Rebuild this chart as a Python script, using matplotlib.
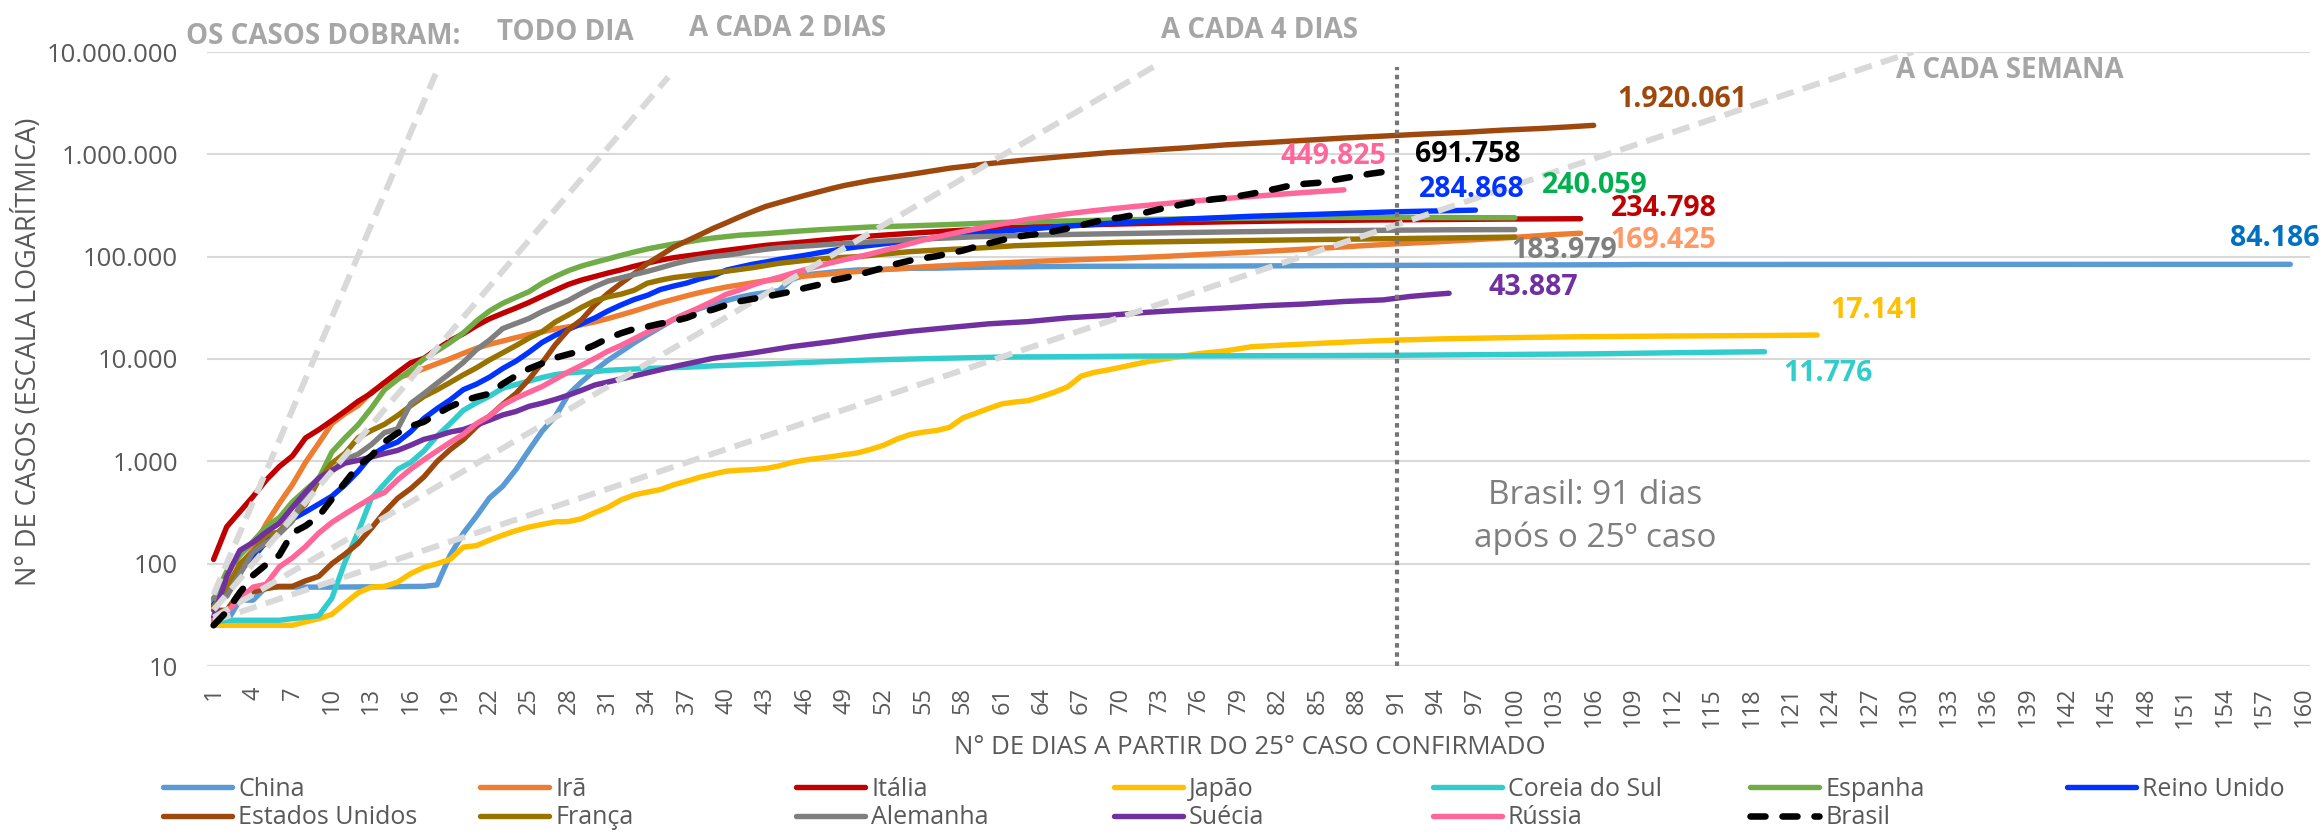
import matplotlib
matplotlib.use("Agg")
import matplotlib.pyplot as plt
from matplotlib.ticker import NullLocator, FixedLocator, FixedFormatter

plt.rcParams['font.family'] = ['Open Sans', 'DejaVu Sans']

# ---------------- data ----------------
x_ticks = list(range(1, 161, 3))
y_ticks = [10, 100, 1000, 10000, 100000, 1000000, 10000000]
y_tick_labels = ["10", "100", "1.000", "10.000", "100.000", "1.000.000", "10.000.000"]

china_days = [1, 2, 3, 4, 5, 10, 17] + list(range(18, 51)) + [52, 54, 56, 58, 61, 66, 76, 92, 108, 109, 122, 140, 159]
china_cases = [27, 27, 44, 44, 59, 59, 60,
               62, 121, 198, 291, 440, 571, 830, 1287, 1975, 2744, 4515, 5974, 7711, 9692, 11791, 14380,
               17205, 20438, 24324, 28018, 31161, 34546, 37198, 40171, 42638, 44653, 46472, 59895, 66358,
               68413, 70513, 72434, 74211,
               75077, 77001, 77241, 78166, 79356, 80409, 80860, 82279, 83482, 83760, 83959, 84063, 84186]

iran_days = list(range(1, 41)) + [43, 46, 49, 52, 55, 58, 61, 64, 67, 70, 73, 76, 79, 82, 85, 88, 91, 94, 97, 100, 103, 105]
iran_cases = [43, 61, 95, 139, 245, 388, 593, 978, 1501, 2336, 2922, 3513, 4747, 5823, 6566, 7161, 8042, 9000,
              10075, 11364, 12729, 13938, 14991, 16169, 17361, 18407, 19644, 20610, 21638, 23049, 24811, 27017,
              29406, 32332, 35408, 38309, 41495, 44605, 47593, 50468,
              58226, 64586, 70029, 74877, 79494, 83505, 87026, 90481, 93657, 96448, 99970, 104691, 109286,
              114533, 120198, 126949, 133521, 139511, 146668, 154445, 164270, 169425]

italy_days = list(range(1, 41)) + [43, 46, 49, 52, 55, 58, 61, 64, 68, 73, 78, 83, 88, 93, 99, 104, 105]
italy_cases = [110, 229, 322, 453, 655, 888, 1128, 1694, 2036, 2502, 3089, 3858, 4636, 5883, 7375, 9172, 10149,
               12462, 15113, 17660, 21157, 24747, 27980, 31506, 35713, 41035, 47021, 53578, 59138, 63927, 69176,
               74386, 80589, 86498, 92472, 97689, 101739, 105792, 110574, 115242,
               128948, 139422, 152271, 162488, 172434, 181228, 189973, 197675, 205463, 213013, 219070, 223885,
               227364, 230158, 232997, 234531, 234798]

japan_days = [1, 7, 8, 9, 10, 11, 12, 13, 14, 15, 16, 17, 18, 19, 20, 21, 22, 23, 24, 25, 26, 27, 28, 29, 30,
              31, 32, 33, 34, 35, 36, 37, 38, 39, 40, 41, 42, 43, 44, 45, 46, 47, 48, 49, 50, 51, 52, 53, 54,
              55, 56, 57, 58, 59, 60, 61, 62, 63, 64, 65, 66, 67, 68, 69, 70, 72, 74, 76, 78, 80, 82, 85, 88,
              91, 95, 100, 105, 110, 115, 120, 123]
japan_cases = [25, 25, 27, 29, 32, 41, 52, 59, 60, 66, 80, 92, 100, 110, 145, 150, 170, 190, 210, 228, 242, 256,
               258, 275, 315, 355, 420, 470, 500, 530, 590, 640, 700, 750, 800, 820, 830, 850, 900, 975, 1030,
               1070, 1110, 1160, 1210, 1310, 1440, 1650, 1830, 1930, 2000, 2150, 2650, 2950, 3300, 3650, 3800,
               3920, 4300, 4750, 5360, 6800, 7400, 7800, 8300, 9400, 10300, 11300, 12000, 13200, 13600, 14200,
               14800, 15300, 15800, 16200, 16500, 16700, 16850, 17000, 17141]

korea_days = list(range(1, 41)) + [45, 51, 55, 61, 66, 71, 76, 81, 86, 91, 96, 101, 106, 112, 116, 119]
korea_cases = [27, 28, 28, 28, 28, 28, 29, 30, 31, 46, 104, 204, 433, 602, 833, 977, 1261, 1766, 2337, 3150,
               3736, 4335, 5186, 5621, 6088, 6593, 7041, 7314, 7478, 7513, 7755, 7869, 7979, 8086, 8162, 8236,
               8320, 8413, 8565, 8652,
               9137, 9786, 10062, 10450, 10537, 10674, 10728, 10774, 10810, 10874, 10991, 11110, 11225, 11503,
               11668, 11776]

spain_days = list(range(1, 42)) + [43, 45, 47, 49, 51, 54, 57, 61, 65, 69, 73, 77, 81, 85, 91, 95, 100]
spain_cases = [45, 84, 120, 165, 228, 282, 401, 525, 674, 1231, 1695, 2277, 3300, 5000, 6300, 7800, 10000,
               12000, 14500, 18000, 23500, 29500, 35000, 40000, 45500, 55000, 64000, 73000, 81000, 88000, 95000,
               103000, 111000, 119000, 126000, 133000, 139000, 146000, 152000, 157000, 162000,
               168000, 176000, 183000, 189000, 195000, 200000, 206000, 216000, 222000, 228000, 232000, 236000,
               239000, 241000, 242500, 241000, 240059]

uk_days = list(range(1, 51)) + [52, 54, 56, 58, 60, 61, 65, 70, 75, 80, 85, 91, 97]
uk_cases = [40, 51, 85, 115, 163, 206, 273, 321, 382, 456, 590, 798, 1140, 1372, 1543, 1950, 2626, 3269, 3983,
            5018, 5683, 6650, 8077, 9529, 11658, 14543, 17089, 19522, 22141, 25150, 29474, 33718, 38168, 41903,
            47806, 51608, 55242, 60733, 65077, 73758, 78991, 84279, 88621, 93873, 98476, 103093, 108692, 114217,
            120067, 124743,
            133495, 143464, 152840, 161145, 171253, 177454, 194990, 215260, 233151, 248293, 259559, 274762, 284868]

us_days = list(range(1, 50)) + [51, 54, 57, 60, 63, 66, 69, 72, 75, 78, 81, 84, 87, 90, 93, 96, 99, 102, 104, 106]
us_cases = [35, 35, 53, 53, 57, 60, 60, 68, 75, 100, 124, 158, 221, 319, 435, 541, 704, 994, 1301, 1630, 2183,
            2770, 3613, 4596, 6344, 9197, 13779, 19367, 24192, 33592, 43781, 54856, 68211, 85570, 102798, 123966,
            142478, 163768, 188747, 214021, 243704, 275802, 309328, 336784, 366317, 397121, 428654, 462780, 496535,
            555313, 636350, 732197, 811865, 886709, 960896, 1035765, 1095304, 1158041, 1237633, 1300000, 1369964,
            1442824, 1508308, 1577147, 1637456, 1721750, 1790191, 1851520, 1920061]

france_days = list(range(1, 37)) + [38, 40, 42, 44, 46, 48, 50, 52, 54, 56, 59, 62, 66, 70, 75, 80, 85, 91, 95, 100]
france_cases = [38, 57, 100, 130, 191, 204, 288, 380, 656, 957, 1200, 1700, 2000, 2300, 2800, 3500, 4300, 5000,
                5900, 7000, 8200, 9800, 11500, 13500, 16000, 18500, 23000, 27000, 32000, 37000, 40500, 43000,
                47000, 55000, 59000, 62500,
                67000, 72000, 78000, 86000, 92000, 97000, 100000, 106000, 112000, 116000, 121000, 128000, 133000,
                138000, 141000, 144000, 147000, 150000, 152500, 155500]

germany_days = list(range(1, 45)) + [49, 54, 59, 64, 69, 74, 79, 84, 89, 95, 100]
germany_cases = [46, 48, 79, 130, 159, 196, 262, 482, 670, 799, 1040, 1176, 1457, 1908, 2078, 3675, 4585, 5795,
                 7272, 9257, 12327, 15320, 19848, 22213, 24873, 29056, 32986, 37323, 43938, 50871, 57695, 62095,
                 66885, 71808, 77872, 84794, 91159, 96092, 100123, 103374, 107663, 113296, 118181, 122171,
                 134753, 147065, 156513, 163009, 167300, 171324, 174975, 178473, 180600, 183189, 183979]

sweden_days = list(range(1, 31)) + [33, 36, 39, 42, 45, 48, 51, 54, 57, 60, 63, 66, 69, 72, 75, 78, 81, 84, 87, 90, 92, 93, 94, 95]
sweden_cases = [30, 75, 135, 161, 203, 248, 355, 500, 687, 814, 961, 1022, 1103, 1190, 1279, 1439, 1639, 1763,
                1934, 2046, 2272, 2526, 2840, 3069, 3447, 3700, 4028, 4435, 4947, 5568,
                6830, 8419, 10151, 11445, 13216, 14777, 16755, 18640, 20302, 22082, 23216, 25265, 26670, 28582,
                30143, 31523, 33188, 34440, 36476, 37814, 40803, 41883, 42939, 43887]

russia_days = list(range(1, 52)) + [53, 55, 57, 60, 63, 66, 68, 71, 73, 76, 79, 82, 84, 86, 87]
russia_cases = [28, 34, 45, 59, 63, 93, 114, 147, 199, 253, 306, 367, 438, 495, 658, 840, 1036, 1264, 1534, 1836,
                2337, 2777, 3548, 4149, 4731, 5389, 6343, 7497, 8672, 10131, 11917, 13584, 15770, 18328, 21102,
                24490, 27938, 32008, 36793, 42853, 47121, 52763, 57999, 62773, 68622, 74588, 80949, 87147, 93558,
                99399, 106498,
                124054, 145268, 165929, 198676, 232243, 262843, 281752, 308705, 326448, 353427, 379051, 405843,
                423741, 441108, 449825]

brasil_days = list(range(1, 92))
brasil_cases = [25, 34, 52, 77, 98, 121, 200, 234, 291, 428, 621, 904, 1128, 1546, 1891, 2201, 2433, 2915, 3417,
                3904, 4256, 4579, 5717,
                6836, 8044, 9056, 10278, 11130, 12056, 13717, 15927, 17857, 19638, 20727, 22169, 23430, 25262,
                28320, 30425, 33682, 36599, 38654, 40581, 43079, 45757, 49492, 52995, 58509, 61888, 66501, 71886,
                78162, 85380,
                91589, 96559, 101147, 107780, 114715, 125218, 135106, 145328, 155939, 162699, 168331, 177589,
                188974, 202918, 218223, 233142, 241080, 255368, 271628, 291579, 310087, 330890, 347398, 363211,
                374898, 391222, 411821, 438238, 465166, 498440, 514849,
                526447, 555383, 584016, 614941, 645771, 672846, 691758]

# reference "doubling" guides: cases = base * 2 ** (day / doubling_time)
guide_base = 25
guide_doubling_days = [1, 2, 4, 7]
guide_end_day = [17.9, 35.6, 73.0, 130.3]

# ---------------- styling ----------------
countries = [
    ("China", china_days, china_cases, "#5B9BD5"),
    ("Irã", iran_days, iran_cases, "#ED7D31"),
    ("Itália", italy_days, italy_cases, "#C00000"),
    ("Japão", japan_days, japan_cases, "#FFC000"),
    ("Coreia do Sul", korea_days, korea_cases, "#33CCCC"),
    ("Espanha", spain_days, spain_cases, "#70AD47"),
    ("Reino Unido", uk_days, uk_cases, "#0033FF"),
    ("Estados Unidos", us_days, us_cases, "#9E480E"),
    ("França", france_days, france_cases, "#997300"),
    ("Alemanha", germany_days, germany_cases, "#7F7F7F"),
    ("Suécia", sweden_days, sweden_cases, "#7030A0"),
    ("Rússia", russia_days, russia_cases, "#FF6699"),
]

W, H = 2320, 835
fig = plt.figure(figsize=(W / 100, H / 100), dpi=100)
ax = fig.add_axes([207 / W, 1 - 666 / H, (2310 - 207) / W, (666 - 52) / H])

LW = 3.9
lines = {}
for name, d, c, col in countries:
    (ln,) = ax.plot(d, c, color=col, lw=LW, solid_capstyle="round", solid_joinstyle="round", zorder=3, label=name)
    lines[name] = ln

# doubling guides
for T, dend in zip(guide_doubling_days, guide_end_day):
    xs = [1, dend]
    ys = [guide_base * 2 ** (x / T) for x in xs]
    ax.plot(xs, ys, color="#D9D9D9", lw=4.3, dashes=(3.0, 1.6), dash_capstyle="butt", zorder=4)

(ln_br,) = ax.plot(brasil_days, brasil_cases, color="black", lw=4.7, dashes=(2.3, 2.6),
                   dash_capstyle="round", zorder=6, label="Brasil")
lines["Brasil"] = ln_br

# vertical dotted marker on Brazil's current day
ax.axvline(brasil_days[-1], ymin=0, ymax=0.975, color="#767676", lw=3.0, dashes=(1.1, 1.1), zorder=5)

ax.set_yscale("log")
ax.set_xlim(0.5, 160.5)
ax.set_ylim(10, 1e7)
ax.yaxis.set_major_locator(FixedLocator(y_ticks))
ax.yaxis.set_major_formatter(FixedFormatter(y_tick_labels))
ax.yaxis.set_minor_locator(NullLocator())
ax.set_xticks(x_ticks)
ax.set_xticklabels([str(t) for t in x_ticks], rotation=90)
ax.tick_params(axis="y", length=0, pad=21, labelsize=18.5, labelcolor="#595959")
ax.tick_params(axis="x", length=0, pad=15, labelsize=17, labelcolor="#595959")
ax.grid(axis="y", color="#D9D9D9", lw=1.5, zorder=0)
ax.set_axisbelow(True)
for s in ax.spines.values():
    s.set_visible(False)

# end-of-series labels
def fmt(v):
    return f"{v:,}".replace(",", ".")

end_labels = [
    (us_cases[-1], "#9E480E", 107.8, 3.40e6, "left"),
    (russia_cases[-1], "#FF6699", 90.2, 9.48e5, "right"),
    (brasil_cases[-1], "#000000", 92.4, 9.9e5, "left"),
    (uk_cases[-1], "#0033FF", 92.7, 4.51e5, "left"),
    (spain_cases[-1], "#00B050", 102.1, 4.93e5, "left"),
    (italy_cases[-1], "#C00000", 107.3, 2.94e5, "left"),
    (iran_cases[-1], "#FF9966", 107.3, 1.43e5, "left"),
    (germany_cases[-1], "#7F7F7F", 99.7, 1.14e5, "left"),
    (sweden_cases[-1], "#7030A0", 98.0, 4.98e4, "left"),
    (china_cases[-1], "#0070C0", 161.2, 1.52e5, "right"),
    (japan_cases[-1], "#FFC000", 124.0, 2.99e4, "left"),
    (korea_cases[-1], "#33CCCC", 120.4, 7.2e3, "left"),
]
for v, col, xd, yd, ha in end_labels:
    ax.text(xd, yd, fmt(v), color=col, fontsize=20.5, fontweight="bold", ha=ha, va="center", zorder=7)

ax.text(106.1, 285, f"Brasil: {brasil_days[-1]} dias\napós o 25º caso", color="#7F7F7F",
        fontsize=24, ha="center", va="center", linespacing=1.38, zorder=7)

# guide captions
captions = [("OS CASOS DOBRAM:", 186, 36), ("TODO DIA", 497, 33), ("A CADA 2 DIAS", 689, 29),
            ("A CADA 4 DIAS", 1161, 31), ("A CADA SEMANA", 1896, 70)]
for s, px, py in captions:
    fig.text(px / W, 1 - py / H, s, color="#A6A6A6", fontsize=20, fontweight="bold", ha="left", va="center")

fig.text(28 / W, 1 - 352 / H, "N° DE CASOS (ESCALA LOGARÍTMICA)", rotation=90, color="#595959",
         fontsize=19.5, ha="center", va="center")
fig.text(1250 / W, 1 - 748 / H, "N° DE DIAS A PARTIR DO 25° CASO CONFIRMADO", color="#595959",
         fontsize=18.5, ha="center", va="center")

# legend: 7 columns, Excel-like fixed column spacing
legend_cols = [["China", "Estados Unidos"], ["Irã", "França"], ["Itália", "Alemanha"], ["Japão", "Suécia"],
               ["Coreia do Sul", "Rússia"], ["Espanha", "Brasil"], ["Reino Unido"]]
col_x = [163, 480, 796, 1114, 1433, 1750, 2067]
for names, px in zip(legend_cols, col_x):
    fig.legend(handles=[lines[n] for n in names], labels=names, loc="upper left",
               bbox_to_anchor=(px / W, 1 - 777 / H), frameon=False, borderpad=0, borderaxespad=0,
               handlelength=2.75, handletextpad=0.25, labelspacing=0.14, fontsize=18,
               labelcolor="#595959")

fig.savefig("out.png", dpi=100, facecolor="white")
